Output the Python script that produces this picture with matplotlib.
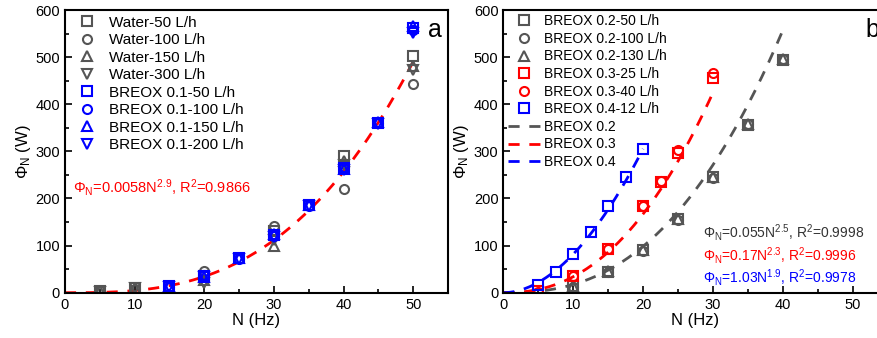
import numpy as np
import matplotlib
matplotlib.use("Agg")
import matplotlib.pyplot as plt
from matplotlib.ticker import MultipleLocator

plt.rcParams['font.family'] = ['Liberation Sans', 'DejaVu Sans']
plt.rcParams['mathtext.fontset'] = 'custom'
plt.rcParams['mathtext.rm'] = 'Liberation Sans'
plt.rcParams['mathtext.it'] = 'Liberation Sans:italic'

GRAY = '#555555'

# ---- panel a data ----
water_n = [5, 10, 20, 30, 40, 50]
water_50 = [3, 10, 35, 130, 290, 503]
water_100 = [3, 8, 47, 141, 221, 444]
water_150 = [4, 9, 28, 99, 280, 481]
water_300 = [2, 9, 20, 112, 270, 473]

breox1_n = [15, 20, 25, 30, 35, 40, 45, 50]
breox1_50 = [14, 35, 73, 122, 186, 264, 361, 561]
breox1_100 = [13, 37, 72, 120, 185, 266, 360, 558]
breox1_150 = [15, 34, 74, 125, 186, 262, 362, 566]
breox1_200 = [12, 33, 71, 118, 184, 260, 359, 552]

fit_a = (0.0058, 2.9, 50)

# ---- panel b data ----
b02_n = [10, 15, 20, 25, 30, 35, 40]
b02_50 = [14, 45, 90, 156, 245, 356, 494]
b02_100 = [12, 44, 89, 155, 244, 357, 496]
b02_130 = [15, 46, 91, 157, 246, 358, 497]

b03_n = [5, 10, 15, 20, 22.5, 25, 30]
b03_25 = [3, 35, 92, 183, 236, 296, 455]
b03_40 = [2, 36, 92, 185, 237, 303, 467]

b04_n = [5, 7.5, 10, 12.5, 15, 17.5, 20]
b04_12 = [16, 43, 83, 128, 183, 246, 306]

fits_b = [(0.055, 2.5, 40, GRAY, 'BREOX 0.2'),
          (0.17, 2.3, 30, 'red', 'BREOX 0.3'),
          (1.03, 1.9, 20, 'blue', 'BREOX 0.4')]


def style_axes(ax):
    ax.set_xlim(0, 55)
    ax.set_ylim(0, 600)
    ax.xaxis.set_major_locator(MultipleLocator(10))
    ax.xaxis.set_minor_locator(MultipleLocator(5))
    ax.yaxis.set_major_locator(MultipleLocator(100))
    ax.yaxis.set_minor_locator(MultipleLocator(50))
    ax.tick_params(which='both', direction='in', labelsize=10.5, width=1.2)
    ax.tick_params(which='major', length=5)
    ax.tick_params(which='minor', length=3)
    for s in ax.spines.values():
        s.set_linewidth(1.5)
    ax.set_xlabel('N (Hz)', fontsize=12, labelpad=1)
    ax.set_ylabel(r'$\mathregular{\Phi_N}$ (W)', fontsize=12, labelpad=2)


mk = dict(ls='none', mfc='none', ms=6.5, mew=1.5)

fig = plt.figure(figsize=(8.77, 3.38), dpi=100)
ax1 = fig.add_axes([0.0741, 0.134, 0.4367, 0.8364])
ax2 = fig.add_axes([0.574, 0.134, 0.438, 0.8364])

# panel a
nn = np.linspace(0, fit_a[2], 200)
ax1.plot(nn, fit_a[0] * nn ** fit_a[1], color='red', lw=2, dashes=(4, 3.5), zorder=1)
ax1.plot(water_n, water_50, marker='s', mec=GRAY, label='Water-50 L/h', **mk)
ax1.plot(water_n, water_100, marker='o', mec=GRAY, label='Water-100 L/h', **mk)
ax1.plot(water_n, water_150, marker='^', mec=GRAY, label='Water-150 L/h', **mk)
ax1.plot(water_n, water_300, marker='v', mec=GRAY, label='Water-300 L/h', **mk)
ax1.plot(breox1_n, breox1_50, marker='s', mec='blue', label='BREOX 0.1-50 L/h', **mk)
ax1.plot(breox1_n, breox1_100, marker='o', mec='blue', label='BREOX 0.1-100 L/h', **mk)
ax1.plot(breox1_n, breox1_150, marker='^', mec='blue', label='BREOX 0.1-150 L/h', **mk)
ax1.plot(breox1_n, breox1_200, marker='v', mec='blue', label='BREOX 0.1-200 L/h', **mk)
style_axes(ax1)
ax1.legend(loc='upper left', frameon=False, fontsize=11, handlelength=2.2,
           handletextpad=0.3, labelspacing=0.23, borderaxespad=0.17, borderpad=0.2)
ax1.text(1.2, 224, r'$\mathregular{\Phi_N}$=0.0058N$^{\mathregular{2.9}}$, R$^{\mathregular{2}}$=0.9866',
         color='red', fontsize=10.5, va='center')
ax1.text(0.984, 0.93, 'a', transform=ax1.transAxes, fontsize=18, ha='right', va='center')

# panel b
ax2.plot(b02_n, b02_50, marker='s', mec=GRAY, label='BREOX 0.2-50 L/h', **mk)
ax2.plot(b02_n, b02_100, marker='o', mec=GRAY, label='BREOX 0.2-100 L/h', **mk)
ax2.plot(b02_n, b02_130, marker='^', mec=GRAY, label='BREOX 0.2-130 L/h', **mk)
ax2.plot(b03_n, b03_25, marker='s', mec='red', label='BREOX 0.3-25 L/h', **mk)
ax2.plot(b03_n, b03_40, marker='o', mec='red', label='BREOX 0.3-40 L/h', **mk)
ax2.plot(b04_n, b04_12, marker='s', mec='blue', label='BREOX 0.4-12 L/h', **mk)
for k, p, nmax, c, lab in fits_b:
    nn = np.linspace(0, nmax, 200)
    ax2.plot(nn, k * nn ** p, color=c, lw=2, dashes=(4, 3.5), label=lab, zorder=1)
style_axes(ax2)
ax2.legend(loc='upper left', frameon=False, fontsize=10, handlelength=2.3,
           handletextpad=0.3, labelspacing=0.26, borderaxespad=0.0, borderpad=0.3)
ax2.text(0.979, 0.93, 'b', transform=ax2.transAxes, fontsize=18, ha='right', va='center')
eqs = [(r'$\mathregular{\Phi_N}$=0.055N$^{\mathregular{2.5}}$, R$^{\mathregular{2}}$=0.9998', '#333333', 128),
       (r'$\mathregular{\Phi_N}$=0.17N$^{\mathregular{2.3}}$, R$^{\mathregular{2}}$=0.9996', 'red', 80),
       (r'$\mathregular{\Phi_N}$=1.03N$^{\mathregular{1.9}}$, R$^{\mathregular{2}}$=0.9978', 'blue', 33)]
for s, c, y in eqs:
    ax2.text(28.6, y, s, color=c, fontsize=10, va='center')

fig.savefig('out.png', dpi=100)
